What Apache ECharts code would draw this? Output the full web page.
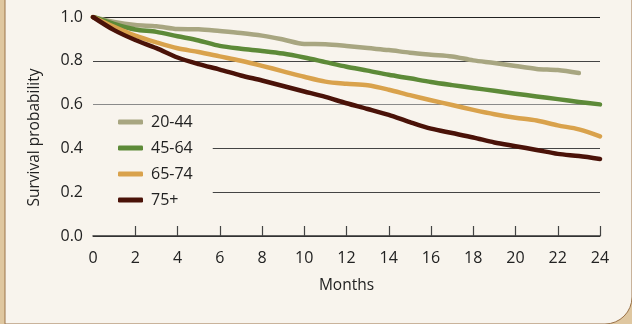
<!DOCTYPE html>
<html>
<head>
<meta charset="utf-8">
<script src="https://cdn.jsdelivr.net/npm/echarts@6/dist/echarts.min.js"></script>
<style>html,body{margin:0;padding:0;}#c{width:632px;height:324px;}</style>
</head>
<body>
<div id="c"></div>
<script>
var months = [0,1,2,3,4,5,6,7,8,9,10,11,12,13,14,15,16,17,18,19,20,21,22,23,24];
var seriesNames = ['20-44','45-64','65-74','75+'];
var age20_44 = [1.0,0.977,0.963,0.958,0.945,0.944,0.936,0.927,0.915,0.897,0.877,0.876,0.868,0.858,0.849,0.837,0.828,0.82,0.802,0.79,0.776,0.763,0.758,0.744];
var age45_64 = [1.0,0.968,0.943,0.932,0.912,0.893,0.868,0.855,0.845,0.833,0.815,0.794,0.773,0.755,0.736,0.72,0.703,0.689,0.676,0.663,0.65,0.637,0.625,0.612,0.601];
var age65_74 = [1.0,0.955,0.915,0.884,0.857,0.84,0.82,0.8,0.777,0.752,0.727,0.705,0.695,0.688,0.668,0.643,0.62,0.598,0.576,0.556,0.54,0.527,0.505,0.487,0.455];
var age75p = [1.0,0.94,0.895,0.858,0.815,0.785,0.76,0.733,0.71,0.685,0.66,0.635,0.606,0.58,0.553,0.52,0.49,0.47,0.45,0.427,0.41,0.393,0.375,0.365,0.352];
var xTickMarks = [2,4,6,8,10,12,14,16,18,20,22,24];
var yTicks = ['0.0','0.2','0.4','0.6','0.8','1.0'];
var colors = ['#a8a681','#5d8a38','#d9a24c','#4a1208'];

function pairs(vals){ return vals.map(function(v,i){ return [months[i], v]; }); }
var allVals = [age20_44, age45_64, age65_74, age75p];

var FONT = '"Open Sans", "Noto Sans", sans-serif';
var chart = echarts.init(document.getElementById('c'), null, {renderer:'canvas'});
chart.setOption({
  backgroundColor: '#dfc7a0',
  animation: false,
  color: colors,
  graphic: [{
    type: 'rect', z: -10, silent: true,
    shape: {x: 5, y: -40, width: 627, height: 364, r: [0, 0, 27, 0]},
    style: {fill: '#f8f4ed', stroke: '#9a7248', lineWidth: 1}
  }],
  grid: {left: 93, right: 32, top: 17, bottom: 88},
  legend: {
    orient: 'vertical', left: 91, top: 106,
    data: seriesNames,
    icon: 'roundRect', itemWidth: 25, itemHeight: 5, itemGap: 8,
    padding: [7, 20, 7, 27],
    backgroundColor: '#f8f4ed',
    textStyle: {fontFamily: FONT, fontSize: 16, color: '#222', lineHeight: 18, padding: [0, 0, 0, 3]}
  },
  xAxis: {
    type: 'value', min: 0, max: 24, interval: 2,
    name: 'Months', nameLocation: 'middle', nameGap: 42,
    nameTextStyle: {fontFamily: FONT, fontSize: 15.5, color: '#222'},
    axisLine: {show: true, lineStyle: {color: '#333', width: 1.5}},
    axisTick: {show: true, inside: true, length: 10, customValues: xTickMarks, lineStyle: {color: '#444', width: 1.2}},
    axisLabel: {fontFamily: FONT, fontSize: 16, color: '#222', margin: 14},
    splitLine: {show: false}
  },
  yAxis: {
    type: 'value', min: 0, max: 1, interval: 0.2,
    name: 'Survival probability', nameLocation: 'middle', nameGap: 50,
    nameTextStyle: {fontFamily: FONT, fontSize: 15.5, color: '#222', padding: [0, 22, 0, 0]},
    axisLine: {show: false}, axisTick: {show: false},
    axisLabel: {fontFamily: FONT, fontSize: 16, color: '#222', margin: 10,
      formatter: function(v){ return yTicks[Math.round(v*5)]; }},
    splitLine: {show: true, lineStyle: {color: ['#333','#444','#444','#8a8a8a','#444','#222'], width: 1}}
  },
  series: seriesNames.map(function(n, i){
    return {
      name: n, type: 'line', data: pairs(allVals[i]),
      showSymbol: false, symbol: 'none', smooth: 0.3, z: 3 + i,
      lineStyle: {width: 4.5, color: colors[i], cap: 'round', join: 'round'}
    };
  })
});
</script>
</body>
</html>
